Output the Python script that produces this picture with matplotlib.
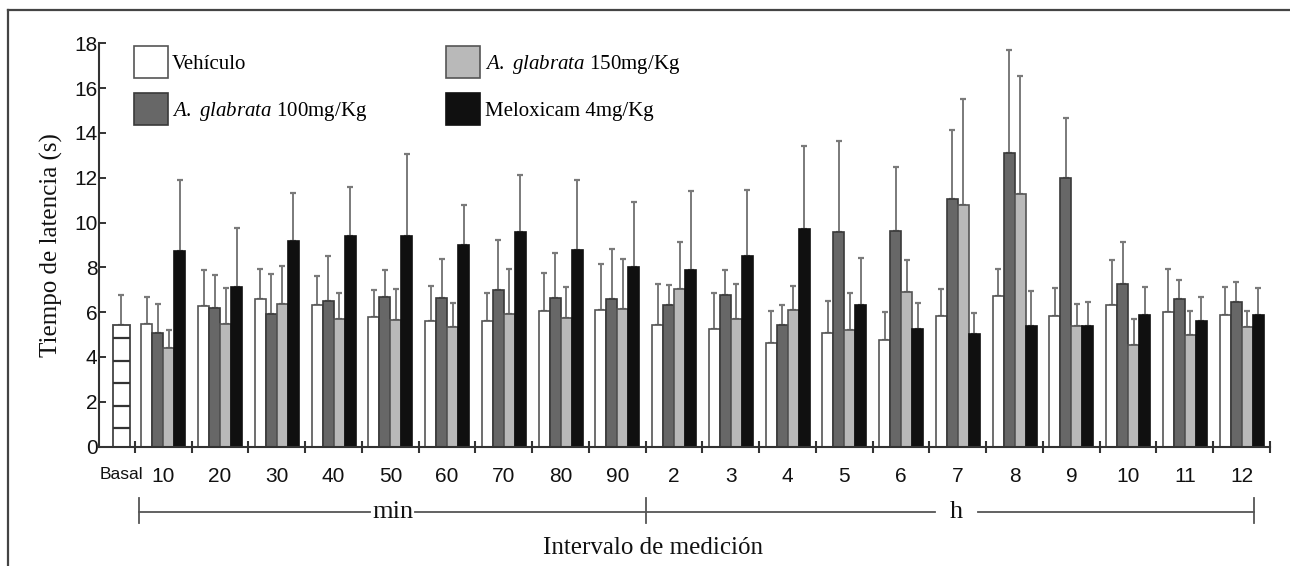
import numpy as np
import matplotlib
matplotlib.use("Agg")
import matplotlib.pyplot as plt
from matplotlib.patches import Patch
from matplotlib.lines import Line2D
from matplotlib.transforms import blended_transform_factory

plt.rcParams['font.family'] = ['Liberation Sans', 'DejaVu Sans']
plt.rcParams['mathtext.fontset'] = 'custom'
plt.rcParams['mathtext.it'] = 'Liberation Serif:italic'
plt.rcParams['mathtext.rm'] = 'Liberation Serif'

# ---------------- data ----------------
categories = ['10', '20', '30', '40', '50', '60', '70', '80', '90',
              '2', '3', '4', '5', '6', '7', '8', '9', '10', '11', '12']
basal_label = 'Basal'
basal_mean = 5.41
basal_err = 1.37

series_names = ['Vehículo', r'$\it{A.\ glabrata}$ 100mg/Kg',
                r'$\it{A.\ glabrata}$ 150mg/Kg', 'Meloxicam 4mg/Kg']

vehiculo = [5.49, 6.26, 6.59, 6.32, 5.78, 5.59, 5.59, 6.07, 6.08, 5.41,
            5.25, 4.61, 5.08, 4.76, 5.83, 6.72, 5.84, 6.31, 6.01, 5.89]
vehiculo_err = [1.17, 1.61, 1.34, 1.31, 1.22, 1.58, 1.25, 1.67, 2.06, 1.83,
                1.61, 1.42, 1.42, 1.25, 1.22, 1.22, 1.25, 2.02, 1.90, 1.22]

ag100 = [5.08, 6.20, 5.93, 6.50, 6.68, 6.63, 7.00, 6.63, 6.60, 6.33,
         6.78, 5.43, 9.57, 9.64, 11.04, 13.09, 11.99, 7.26, 6.57, 6.47]
ag100_err = [1.28, 1.46, 1.77, 2.01, 1.19, 1.76, 2.24, 2.00, 2.22, 0.88,
             1.09, 0.90, 4.07, 2.84, 3.07, 4.59, 2.68, 1.86, 0.88, 0.86]

ag150 = [4.38, 5.46, 6.36, 5.69, 5.65, 5.35, 5.93, 5.75, 6.14, 7.03,
         5.71, 6.08, 5.20, 6.90, 10.77, 11.29, 5.37, 4.55, 4.98, 5.32]
ag150_err = [0.82, 1.60, 1.69, 1.16, 1.37, 1.07, 2.00, 1.36, 2.25, 2.12,
             1.56, 1.10, 1.64, 1.41, 4.76, 5.23, 0.99, 1.13, 1.07, 0.72]

meloxicam = [8.75, 7.11, 9.19, 9.40, 9.39, 9.00, 9.59, 8.78, 8.03, 7.90,
             8.49, 9.73, 6.33, 5.23, 5.01, 5.40, 5.38, 5.87, 5.61, 5.86]
meloxicam_err = [3.15, 2.66, 2.13, 2.19, 3.66, 1.79, 2.54, 3.11, 2.89, 3.51,
                 2.98, 3.69, 2.09, 1.16, 0.95, 1.54, 1.07, 1.25, 1.05, 1.22]

yticks = [0, 2, 4, 6, 8, 10, 12, 14, 16, 18]

# ---------------- style ----------------
face_colors = ['#ffffff', '#676767', '#b9b9b9', '#101010']
edge_colors = ['#555555', '#3a3a3a', '#555555', '#101010']
serif = ['Liberation Serif', 'DejaVu Serif']

W, H = 1290, 566
fig = plt.figure(figsize=(W / 100, H / 100), dpi=100)
ax = fig.add_axes([99 / W, 1 - 446.5 / H, (1270 - 99) / W, (446.5 - 43.3) / H])

n = len(categories)
group_x = np.arange(n) + 0.5
bw = 0.194
means = [vehiculo, ag100, ag150, meloxicam]
errs = [vehiculo_err, ag100_err, ag150_err, meloxicam_err]

for i, (m, e) in enumerate(zip(means, errs)):
    x = group_x + (i - 1.5) * bw
    eb = ax.errorbar(x, m, yerr=[np.zeros(n), e], fmt='none', ecolor='#7a7a7a',
                     elinewidth=1.4, capsize=2.5, capthick=1.6, zorder=1)
    for cl in eb[1]:
        cl.set_color('#333333')
    ax.bar(x, m, width=bw, color=face_colors[i], edgecolor=edge_colors[i],
           linewidth=1.2, zorder=2)

# basal bar
basal_x = -0.238
basal_w = 0.30
eb = ax.errorbar([basal_x], [basal_mean], yerr=[[0], [basal_err]], fmt='none',
                 ecolor='#7a7a7a', elinewidth=1.4, capsize=2.5, capthick=1.6, zorder=1)
for cl in eb[1]:
    cl.set_color('#333333')
ax.bar([basal_x], [basal_mean], width=basal_w, color='white', edgecolor='#444444',
       linewidth=1.3, zorder=2)
ax.hlines(np.arange(0.83, basal_mean, 1.0), basal_x - basal_w / 2, basal_x + basal_w / 2,
          colors='#333333', linewidth=1.6, zorder=3)

# axes
ax.set_xlim(-0.634, n)
ax.set_ylim(0, 18)
for s in ['top', 'right']:
    ax.spines[s].set_visible(False)
for s in ['left', 'bottom']:
    ax.spines[s].set_color('#333333')
    ax.spines[s].set_linewidth(1.5)

ax.set_yticks(yticks)
ax.set_yticklabels([str(v) for v in yticks])
ax.tick_params(axis='y', direction='in', length=5, width=1.4, color='#333333',
               labelsize=15, pad=1, labelcolor='#111111')

ax.set_xticks(np.arange(0, n + 1))
ax.set_xticklabels([])
ax.tick_params(axis='x', which='major', direction='inout', length=9, width=1.5,
               color='#333333')
ax.set_xticks(np.concatenate([[basal_x], group_x]), minor=True)
ax.set_xticklabels([basal_label] + categories, minor=True)
ax.tick_params(axis='x', which='minor', length=0, labelsize=15, pad=15,
               labelcolor='#111111')
ax.get_xticklabels(minor=True)[0].set_fontsize(12.5)

ax.set_ylabel('Tiempo de latencia (s)', family=serif, fontsize=18, color='#111111')
ax.yaxis.set_label_coords(-0.031, 0.5)

ax.text(0.473, -0.252, 'Intervalo de medición', transform=ax.transAxes,
        ha='center', va='center', family=serif, fontsize=18, color='#111111')

# bracket min / h
tr = blended_transform_factory(ax.transData, ax.transAxes)
yl, yt, yb = -0.1625, -0.128, -0.190
lc = '#555555'
for a, b in [(0.07, 4.15), (4.93, 14.10), (14.85, 19.72)]:
    ax.add_line(Line2D([a, b], [yl, yl], transform=tr, color=lc, lw=1.3, clip_on=False))
for xv in [0.07, 9.0, 19.72]:
    ax.add_line(Line2D([xv, xv], [yt, yb], transform=tr, color=lc, lw=1.3, clip_on=False))
ax.text(4.55, yl, 'min', transform=tr, ha='center', va='center', family=serif,
        fontsize=19, color='#111111')
ax.text(14.48, yl, 'h', transform=tr, ha='center', va='center', family=serif,
        fontsize=19, color='#111111')

# legend
handles = [Patch(facecolor=face_colors[i], edgecolor=edge_colors[i] if i != 0 else '#555555',
                 linewidth=1.2) for i in range(4)]
leg = fig.legend(handles, series_names, ncol=2, loc='upper left',
                 bbox_to_anchor=(134 / W, 1 - 46 / H), bbox_transform=fig.transFigure,
                 frameon=False, prop={'family': serif, 'size': 15},
                 handlelength=1.63, handleheight=2.0, handletextpad=0.2,
                 labelspacing=0.72, columnspacing=3.8, borderpad=0, borderaxespad=0)

# figure frame (top and left)
fig.add_artist(Line2D([8 / W, 8 / W], [0, 1 - 10 / H], transform=fig.transFigure,
                      color='#444444', lw=1.6))
fig.add_artist(Line2D([8 / W, 1], [1 - 10 / H, 1 - 10 / H], transform=fig.transFigure,
                      color='#444444', lw=1.6))

fig.savefig('out.png', dpi=100)
